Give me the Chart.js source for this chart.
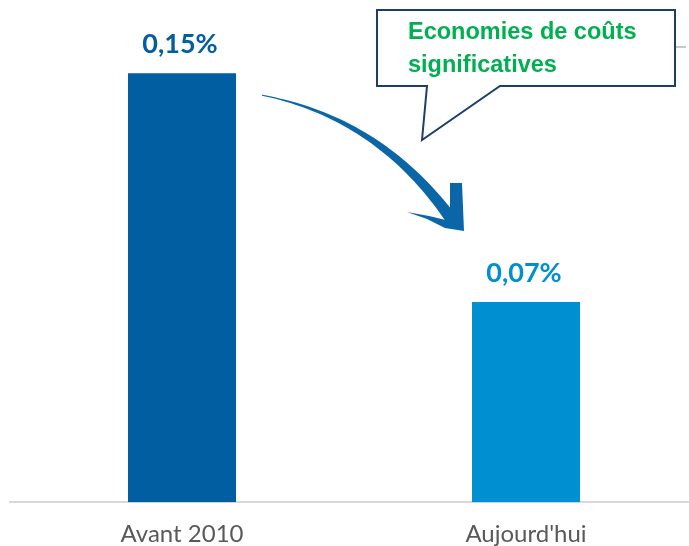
<!DOCTYPE html>
<html>
<head>
<meta charset="utf-8">
<script src="https://cdn.jsdelivr.net/npm/chart.js@4.4.0/dist/chart.umd.min.js"></script>
<style>
    html, body { margin: 0; padding: 0; background: #fff; overflow: hidden; }
    #wrap { position: relative; width: 698px; height: 546px; }
</style>
</head>
<body>
<div id="wrap"><canvas id="costChart"></canvas></div>
<script>
// Données du graphique
const categories = ['Avant 2010', "Aujourd'hui"];
const values = [0.15, 0.07];            // en %
const barColors = ['#005ea1', '#008fd1'];
const calloutLines = ['Economies de coûts', 'significatives'];

// Format "0,15%"
function fmtPct(v) {
    return v.toFixed(2).replace('.', ',') + '%';
}

// Plugin : étiquettes de valeur, flèche et bulle
const decorPlugin = {
    id: 'decor',
    afterDraw(chart) {
        const ctx = chart.ctx;
        const bars = chart.getDatasetMeta(0).data;

        // 1. Valeurs au-dessus des barres
        ctx.save();
        ctx.font = 'bold 27px Lato, "Open Sans", sans-serif';
        ctx.textAlign = 'center';
        ctx.textBaseline = 'alphabetic';
        bars.forEach((bar, i) => {
            ctx.fillStyle = barColors[i];
            ctx.fillText(fmtPct(values[i]), bar.x - 2, bar.y - 20);
        });
        ctx.restore();

        // 2. Flèche courbe (de la barre 1 vers la barre 2)
        const b1 = bars[0], b2 = bars[1];
        const sx = b1.x + 80, sy = b1.y + 22;
        const tx = b2.x - 63, ty = b2.y - 71;
        const cx = sx + 118, cy = sy + 23;
        const ex = tx - 11, ey = ty - 11;
        const N = 40;
        const left = [], right = [];
        for (let k = 0; k <= N; k++) {
            const t = k / N;
            const px = (1 - t) * (1 - t) * sx + 2 * (1 - t) * t * cx + t * t * ex;
            const py = (1 - t) * (1 - t) * sy + 2 * (1 - t) * t * cy + t * t * ey;
            const dx = 2 * (1 - t) * (cx - sx) + 2 * t * (ex - cx);
            const dy = 2 * (1 - t) * (cy - sy) + 2 * t * (ey - cy);
            const len = Math.hypot(dx, dy);
            const w = (1 + 11 * Math.pow(t, 1.2)) / 2;
            const nx = -dy / len, ny = dx / len;
            left.push([px + nx * w, py + ny * w]);
            right.push([px - nx * w, py - ny * w]);
        }
        ctx.save();
        ctx.fillStyle = '#0b66a8';
        ctx.beginPath();
        left.forEach((p, i) => i ? ctx.lineTo(p[0], p[1]) : ctx.moveTo(p[0], p[1]));
        for (let i = right.length - 1; i >= 0; i--) ctx.lineTo(right[i][0], right[i][1]);
        ctx.closePath();
        ctx.fill();
        // pointe
        const head = [[-13, -48], [-1, -48], [1, 0], [-18, -3], [-36, -12], [-56, -19], [-34, -15], [-13, -10]];
        ctx.beginPath();
        head.forEach((p, i) => i ? ctx.lineTo(tx + p[0], ty + p[1]) : ctx.moveTo(tx + p[0], ty + p[1]));
        ctx.closePath();
        ctx.fill();
        ctx.restore();

        // 3. Bulle de commentaire
        ctx.save();
        ctx.strokeStyle = '#c8c8c8';
        ctx.lineWidth = 2;
        ctx.beginPath();
        ctx.moveTo(676, 47);
        ctx.lineTo(686, 47);
        ctx.stroke();

        ctx.fillStyle = '#ffffff';
        ctx.strokeStyle = '#1b3f6c';
        ctx.lineWidth = 2;
        ctx.lineJoin = 'miter';
        ctx.beginPath();
        ctx.moveTo(377, 10);
        ctx.lineTo(675, 10);
        ctx.lineTo(675, 86);
        ctx.lineTo(500, 86);
        ctx.lineTo(422, 140);
        ctx.lineTo(427, 86);
        ctx.lineTo(377, 86);
        ctx.closePath();
        ctx.fill();
        ctx.stroke();

        ctx.fillStyle = '#00b050';
        ctx.font = 'bold 23.5px "Liberation Sans", Arial, sans-serif';
        ctx.textAlign = 'left';
        ctx.textBaseline = 'alphabetic';
        ctx.fillText(calloutLines[0], 408, 39);
        ctx.fillText(calloutLines[1], 408, 72);
        ctx.restore();
    }
};

new Chart(document.getElementById('costChart'), {
    type: 'bar',
    data: {
        labels: categories,
        datasets: [{
            data: values,
            backgroundColor: barColors,
            borderWidth: 0,
            barPercentage: 0.314,
            categoryPercentage: 1
        }]
    },
    options: {
        responsive: true,
        maintainAspectRatio: false,
        animation: false,
        layout: { padding: { left: 10, right: 0, top: 0, bottom: -21 } },
        plugins: {
            legend: { display: false },
            tooltip: { enabled: false }
        },
        scales: {
            y: {
                display: false,
                min: 0,
                max: 0.1756
            },
            x: {
                grid: { display: false, drawTicks: false },
                border: { display: true, color: '#d9d9d9', width: 2 },
                ticks: {
                    color: '#595959',
                    padding: 18,
                    font: { family: 'Lato, "Open Sans", sans-serif', size: 24 }
                }
            }
        }
    },
    plugins: [decorPlugin]
});
</script>
</body>
</html>
